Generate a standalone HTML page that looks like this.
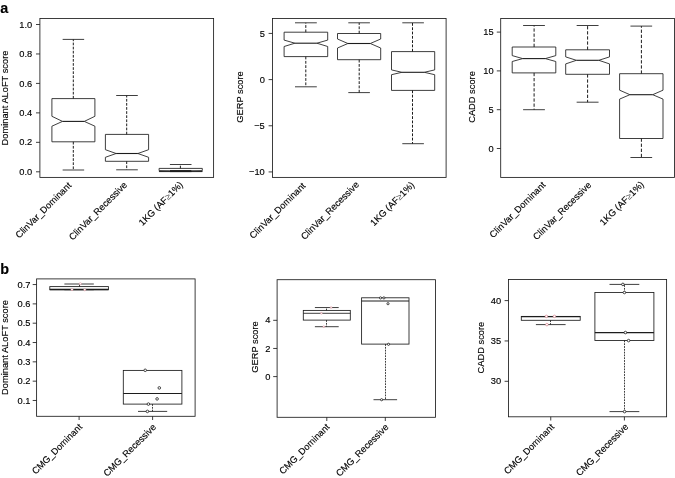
<!DOCTYPE html>
<html><head><meta charset="utf-8"><title>Figure</title>
<style>html,body{margin:0;padding:0;background:#fff}svg{display:block}text{font-family:"Liberation Sans",Arial,sans-serif;fill:#000;stroke:#000;stroke-width:0.14px}</style>
</head><body>
<svg width="675" height="478" viewBox="0 0 675 478">
<rect x="0" y="0" width="675" height="478" fill="#fff"/>
<text x="0.30" y="13.20" font-size="14.4" text-anchor="start" font-weight="bold">a</text>
<text x="0.30" y="274.20" font-size="14.4" text-anchor="start" font-weight="bold">b</text>
<rect x="39.90" y="18.50" width="173.70" height="158.90" fill="none" stroke="#1c1c1c" stroke-width="0.85"/>
<line x1="36.00" y1="171.80" x2="39.90" y2="171.80" stroke="#1c1c1c" stroke-width="0.85"/>
<text x="32.20" y="174.90" font-size="9.3" text-anchor="end">0.0</text>
<line x1="36.00" y1="142.34" x2="39.90" y2="142.34" stroke="#1c1c1c" stroke-width="0.85"/>
<text x="32.20" y="145.44" font-size="9.3" text-anchor="end">0.2</text>
<line x1="36.00" y1="112.88" x2="39.90" y2="112.88" stroke="#1c1c1c" stroke-width="0.85"/>
<text x="32.20" y="115.98" font-size="9.3" text-anchor="end">0.4</text>
<line x1="36.00" y1="83.42" x2="39.90" y2="83.42" stroke="#1c1c1c" stroke-width="0.85"/>
<text x="32.20" y="86.52" font-size="9.3" text-anchor="end">0.6</text>
<line x1="36.00" y1="53.96" x2="39.90" y2="53.96" stroke="#1c1c1c" stroke-width="0.85"/>
<text x="32.20" y="57.06" font-size="9.3" text-anchor="end">0.8</text>
<line x1="36.00" y1="24.50" x2="39.90" y2="24.50" stroke="#1c1c1c" stroke-width="0.85"/>
<text x="32.20" y="27.60" font-size="9.3" text-anchor="end">1.0</text>
<text x="7.60" y="98.00" font-size="9.3" text-anchor="middle" transform="rotate(-90 7.60 98.00)">Dominant ALoFT score</text>
<polygon points="51.90,98.60 94.90,98.60 94.90,116.30 84.30,121.40 94.90,126.20 94.90,141.80 51.90,141.80 51.90,126.20 62.50,121.40 51.90,116.30" fill="#fff" stroke="#1c1c1c" stroke-width="0.85" stroke-linejoin="miter"/>
<line x1="62.50" y1="121.40" x2="84.30" y2="121.40" stroke="#1c1c1c" stroke-width="1.1"/>
<line x1="73.30" y1="98.60" x2="73.30" y2="39.40" stroke="#1c1c1c" stroke-width="1.0" stroke-dasharray="2.7 1.4"/>
<line x1="73.30" y1="141.80" x2="73.30" y2="170.00" stroke="#1c1c1c" stroke-width="1.0" stroke-dasharray="2.7 1.4"/>
<line x1="62.65" y1="39.40" x2="84.15" y2="39.40" stroke="#1c1c1c" stroke-width="0.85"/>
<line x1="62.65" y1="170.00" x2="84.15" y2="170.00" stroke="#1c1c1c" stroke-width="0.85"/>
<polygon points="105.40,134.40 148.60,134.40 148.60,149.70 137.90,153.50 148.60,157.30 148.60,161.30 105.40,161.30 105.40,157.30 116.10,153.50 105.40,149.70" fill="#fff" stroke="#1c1c1c" stroke-width="0.85" stroke-linejoin="miter"/>
<line x1="116.10" y1="153.50" x2="137.90" y2="153.50" stroke="#1c1c1c" stroke-width="1.1"/>
<line x1="126.70" y1="134.40" x2="126.70" y2="95.50" stroke="#1c1c1c" stroke-width="1.0" stroke-dasharray="2.7 1.4"/>
<line x1="126.70" y1="161.30" x2="126.70" y2="169.80" stroke="#1c1c1c" stroke-width="1.0" stroke-dasharray="2.7 1.4"/>
<line x1="116.20" y1="95.50" x2="137.80" y2="95.50" stroke="#1c1c1c" stroke-width="0.85"/>
<line x1="116.20" y1="169.80" x2="137.80" y2="169.80" stroke="#1c1c1c" stroke-width="0.85"/>
<polygon points="159.10,168.40 202.30,168.40 202.30,170.60 191.70,171.00 202.30,171.40 202.30,171.60 159.10,171.60 159.10,171.40 169.70,171.00 159.10,170.60" fill="#fff" stroke="#1c1c1c" stroke-width="0.85" stroke-linejoin="miter"/>
<line x1="169.70" y1="171.00" x2="191.70" y2="171.00" stroke="#1c1c1c" stroke-width="1.9"/>
<line x1="180.40" y1="168.40" x2="180.40" y2="164.50" stroke="#1c1c1c" stroke-width="1.0" stroke-dasharray="2.7 1.4"/>
<line x1="180.40" y1="171.60" x2="180.40" y2="171.60" stroke="#1c1c1c" stroke-width="1.0" stroke-dasharray="2.7 1.4"/>
<line x1="169.90" y1="164.50" x2="191.50" y2="164.50" stroke="#1c1c1c" stroke-width="0.85"/>
<line x1="169.90" y1="171.60" x2="191.50" y2="171.60" stroke="#1c1c1c" stroke-width="0.85"/>
<text x="72.00" y="186.00" font-size="9.3" text-anchor="end" transform="rotate(-45 72.00 186.00)">ClinVar_Dominant</text>
<text x="127.70" y="185.60" font-size="9.3" text-anchor="end" transform="rotate(-45 127.70 185.60)">ClinVar_Recessive</text>
<text x="183.50" y="185.30" font-size="9.3" text-anchor="end" transform="rotate(-45 183.50 185.30)">1KG (AF<tspan fill="#555" stroke="none">≥</tspan>1%)</text>
<rect x="272.50" y="18.50" width="173.60" height="158.90" fill="none" stroke="#1c1c1c" stroke-width="0.85"/>
<line x1="268.60" y1="33.43" x2="272.50" y2="33.43" stroke="#1c1c1c" stroke-width="0.85"/>
<text x="264.80" y="36.53" font-size="9.3" text-anchor="end">5</text>
<line x1="268.60" y1="79.60" x2="272.50" y2="79.60" stroke="#1c1c1c" stroke-width="0.85"/>
<text x="264.80" y="82.70" font-size="9.3" text-anchor="end">0</text>
<line x1="268.60" y1="125.77" x2="272.50" y2="125.77" stroke="#1c1c1c" stroke-width="0.85"/>
<text x="264.80" y="128.87" font-size="9.3" text-anchor="end">−5</text>
<line x1="268.60" y1="171.93" x2="272.50" y2="171.93" stroke="#1c1c1c" stroke-width="0.85"/>
<text x="264.80" y="175.03" font-size="9.3" text-anchor="end">−10</text>
<text x="243.30" y="97.00" font-size="9.3" text-anchor="middle" transform="rotate(-90 243.30 97.00)">GERP score</text>
<polygon points="284.10,32.20 327.70,32.20 327.70,40.10 316.90,43.20 327.70,46.50 327.70,56.60 284.10,56.60 284.10,46.50 294.90,43.20 284.10,40.10" fill="#fff" stroke="#1c1c1c" stroke-width="0.85" stroke-linejoin="miter"/>
<line x1="294.90" y1="43.20" x2="316.90" y2="43.20" stroke="#1c1c1c" stroke-width="1.1"/>
<line x1="305.80" y1="32.20" x2="305.80" y2="22.80" stroke="#1c1c1c" stroke-width="1.0" stroke-dasharray="2.8 1.5"/>
<line x1="305.80" y1="56.60" x2="305.80" y2="86.80" stroke="#1c1c1c" stroke-width="1.0" stroke-dasharray="2.8 1.5"/>
<line x1="295.00" y1="22.80" x2="316.80" y2="22.80" stroke="#1c1c1c" stroke-width="0.85"/>
<line x1="295.00" y1="86.80" x2="316.80" y2="86.80" stroke="#1c1c1c" stroke-width="0.85"/>
<polygon points="337.50,33.50 380.70,33.50 380.70,39.00 370.30,43.50 380.70,48.00 380.70,59.70 337.50,59.70 337.50,48.00 347.90,43.50 337.50,39.00" fill="#fff" stroke="#1c1c1c" stroke-width="0.85" stroke-linejoin="miter"/>
<line x1="347.90" y1="43.50" x2="370.30" y2="43.50" stroke="#1c1c1c" stroke-width="1.1"/>
<line x1="359.20" y1="33.50" x2="359.20" y2="22.80" stroke="#1c1c1c" stroke-width="1.0" stroke-dasharray="2.8 1.5"/>
<line x1="359.20" y1="59.70" x2="359.20" y2="92.60" stroke="#1c1c1c" stroke-width="1.0" stroke-dasharray="2.8 1.5"/>
<line x1="348.30" y1="22.80" x2="369.90" y2="22.80" stroke="#1c1c1c" stroke-width="0.85"/>
<line x1="348.30" y1="92.60" x2="369.90" y2="92.60" stroke="#1c1c1c" stroke-width="0.85"/>
<polygon points="391.50,51.60 434.70,51.60 434.70,69.90 424.30,72.30 434.70,74.70 434.70,90.40 391.50,90.40 391.50,74.70 401.90,72.30 391.50,69.90" fill="#fff" stroke="#1c1c1c" stroke-width="0.85" stroke-linejoin="miter"/>
<line x1="401.90" y1="72.30" x2="424.30" y2="72.30" stroke="#1c1c1c" stroke-width="1.1"/>
<line x1="412.50" y1="51.60" x2="412.50" y2="22.80" stroke="#1c1c1c" stroke-width="1.0" stroke-dasharray="2.8 1.5"/>
<line x1="412.50" y1="90.40" x2="412.50" y2="143.70" stroke="#1c1c1c" stroke-width="1.0" stroke-dasharray="2.8 1.5"/>
<line x1="402.30" y1="22.80" x2="423.90" y2="22.80" stroke="#1c1c1c" stroke-width="0.85"/>
<line x1="402.30" y1="143.70" x2="423.90" y2="143.70" stroke="#1c1c1c" stroke-width="0.85"/>
<text x="306.20" y="186.30" font-size="9.3" text-anchor="end" transform="rotate(-45 306.20 186.30)">ClinVar_Dominant</text>
<text x="359.70" y="185.20" font-size="9.3" text-anchor="end" transform="rotate(-45 359.70 185.20)">ClinVar_Recessive</text>
<text x="415.00" y="185.50" font-size="9.3" text-anchor="end" transform="rotate(-45 415.00 185.50)">1KG (AF<tspan fill="#555" stroke="none">≥</tspan>1%)</text>
<rect x="500.70" y="18.50" width="173.80" height="158.90" fill="none" stroke="#1c1c1c" stroke-width="0.85"/>
<line x1="496.80" y1="32.10" x2="500.70" y2="32.10" stroke="#1c1c1c" stroke-width="0.85"/>
<text x="493.70" y="35.20" font-size="9.3" text-anchor="end">15</text>
<line x1="496.80" y1="70.90" x2="500.70" y2="70.90" stroke="#1c1c1c" stroke-width="0.85"/>
<text x="493.70" y="74.00" font-size="9.3" text-anchor="end">10</text>
<line x1="496.80" y1="109.70" x2="500.70" y2="109.70" stroke="#1c1c1c" stroke-width="0.85"/>
<text x="493.70" y="112.80" font-size="9.3" text-anchor="end">5</text>
<line x1="496.80" y1="148.50" x2="500.70" y2="148.50" stroke="#1c1c1c" stroke-width="0.85"/>
<text x="493.70" y="151.60" font-size="9.3" text-anchor="end">0</text>
<text x="474.90" y="97.00" font-size="9.3" text-anchor="middle" transform="rotate(-90 474.90 97.00)">CADD score</text>
<polygon points="512.20,47.00 555.80,47.00 555.80,55.60 545.30,58.60 555.80,61.50 555.80,72.90 512.20,72.90 512.20,61.50 522.70,58.60 512.20,55.60" fill="#fff" stroke="#1c1c1c" stroke-width="0.85" stroke-linejoin="miter"/>
<line x1="522.70" y1="58.60" x2="545.30" y2="58.60" stroke="#1c1c1c" stroke-width="1.1"/>
<line x1="534.10" y1="47.00" x2="534.10" y2="25.50" stroke="#1c1c1c" stroke-width="1.0" stroke-dasharray="3.3 1.8"/>
<line x1="534.10" y1="72.90" x2="534.10" y2="109.70" stroke="#1c1c1c" stroke-width="1.0" stroke-dasharray="3.3 1.8"/>
<line x1="523.10" y1="25.50" x2="544.90" y2="25.50" stroke="#1c1c1c" stroke-width="0.85"/>
<line x1="523.10" y1="109.70" x2="544.90" y2="109.70" stroke="#1c1c1c" stroke-width="0.85"/>
<polygon points="565.70,49.80 609.50,49.80 609.50,56.90 598.80,60.30 609.50,63.90 609.50,74.30 565.70,74.30 565.70,63.90 576.40,60.30 565.70,56.90" fill="#fff" stroke="#1c1c1c" stroke-width="0.85" stroke-linejoin="miter"/>
<line x1="576.40" y1="60.30" x2="598.80" y2="60.30" stroke="#1c1c1c" stroke-width="1.1"/>
<line x1="587.60" y1="49.80" x2="587.60" y2="25.50" stroke="#1c1c1c" stroke-width="1.0" stroke-dasharray="3.3 1.8"/>
<line x1="587.60" y1="74.30" x2="587.60" y2="102.20" stroke="#1c1c1c" stroke-width="1.0" stroke-dasharray="3.3 1.8"/>
<line x1="576.65" y1="25.50" x2="598.55" y2="25.50" stroke="#1c1c1c" stroke-width="0.85"/>
<line x1="576.65" y1="102.20" x2="598.55" y2="102.20" stroke="#1c1c1c" stroke-width="0.85"/>
<polygon points="619.60,73.70 663.00,73.70 663.00,90.20 652.70,94.70 663.00,99.10 663.00,138.50 619.60,138.50 619.60,99.10 629.90,94.70 619.60,90.20" fill="#fff" stroke="#1c1c1c" stroke-width="0.85" stroke-linejoin="miter"/>
<line x1="629.90" y1="94.70" x2="652.70" y2="94.70" stroke="#1c1c1c" stroke-width="1.1"/>
<line x1="641.40" y1="73.70" x2="641.40" y2="26.10" stroke="#1c1c1c" stroke-width="1.0" stroke-dasharray="3.3 1.8"/>
<line x1="641.40" y1="138.50" x2="641.40" y2="157.50" stroke="#1c1c1c" stroke-width="1.0" stroke-dasharray="3.3 1.8"/>
<line x1="630.45" y1="26.10" x2="652.15" y2="26.10" stroke="#1c1c1c" stroke-width="0.85"/>
<line x1="630.45" y1="157.50" x2="652.15" y2="157.50" stroke="#1c1c1c" stroke-width="0.85"/>
<text x="546.20" y="185.50" font-size="9.3" text-anchor="end" transform="rotate(-45 546.20 185.50)">ClinVar_Dominant</text>
<text x="591.90" y="185.50" font-size="9.3" text-anchor="end" transform="rotate(-45 591.90 185.50)">ClinVar_Recessive</text>
<text x="644.50" y="185.00" font-size="9.3" text-anchor="end" transform="rotate(-45 644.50 185.00)">1KG (AF<tspan fill="#555" stroke="none">≥</tspan>1%)</text>
<rect x="36.60" y="278.90" width="158.50" height="137.40" fill="none" stroke="#1c1c1c" stroke-width="0.85"/>
<line x1="32.70" y1="400.48" x2="36.60" y2="400.48" stroke="#1c1c1c" stroke-width="0.85"/>
<text x="30.50" y="403.58" font-size="9.3" text-anchor="end">0.1</text>
<line x1="32.70" y1="381.16" x2="36.60" y2="381.16" stroke="#1c1c1c" stroke-width="0.85"/>
<text x="30.50" y="384.26" font-size="9.3" text-anchor="end">0.2</text>
<line x1="32.70" y1="361.84" x2="36.60" y2="361.84" stroke="#1c1c1c" stroke-width="0.85"/>
<text x="30.50" y="364.94" font-size="9.3" text-anchor="end">0.3</text>
<line x1="32.70" y1="342.52" x2="36.60" y2="342.52" stroke="#1c1c1c" stroke-width="0.85"/>
<text x="30.50" y="345.62" font-size="9.3" text-anchor="end">0.4</text>
<line x1="32.70" y1="323.20" x2="36.60" y2="323.20" stroke="#1c1c1c" stroke-width="0.85"/>
<text x="30.50" y="326.30" font-size="9.3" text-anchor="end">0.5</text>
<line x1="32.70" y1="303.88" x2="36.60" y2="303.88" stroke="#1c1c1c" stroke-width="0.85"/>
<text x="30.50" y="306.98" font-size="9.3" text-anchor="end">0.6</text>
<line x1="32.70" y1="284.56" x2="36.60" y2="284.56" stroke="#1c1c1c" stroke-width="0.85"/>
<text x="30.50" y="287.66" font-size="9.3" text-anchor="end">0.7</text>
<text x="7.50" y="347.50" font-size="9.3" text-anchor="middle" transform="rotate(-90 7.50 347.50)">Dominant ALoFT score</text>
<line x1="79.10" y1="416.30" x2="79.10" y2="420.00" stroke="#1c1c1c" stroke-width="0.85"/>
<line x1="152.60" y1="416.30" x2="152.60" y2="420.00" stroke="#1c1c1c" stroke-width="0.85"/>
<rect x="49.80" y="286.60" width="58.60" height="3.10" fill="#fafafa" stroke="#1c1c1c" stroke-width="0.85"/>
<line x1="49.80" y1="289.50" x2="108.40" y2="289.50" stroke="#1c1c1c" stroke-width="1.4"/>
<line x1="79.50" y1="286.60" x2="79.50" y2="284.00" stroke="#1c1c1c" stroke-width="0.85" stroke-dasharray="1.8 1.0"/>
<line x1="64.40" y1="284.00" x2="93.80" y2="284.00" stroke="#1c1c1c" stroke-width="0.85"/>
<line x1="64.40" y1="289.70" x2="93.80" y2="289.70" stroke="#1c1c1c" stroke-width="0.85"/>
<circle cx="80.30" cy="283.70" r="1.1" fill="#fff" stroke="#d98590" stroke-width="0.5"/>
<circle cx="72.00" cy="289.60" r="1.1" fill="#fff" stroke="#d98590" stroke-width="0.5"/>
<circle cx="84.80" cy="289.80" r="1.1" fill="#fff" stroke="#d98590" stroke-width="0.5"/>
<rect x="123.30" y="370.40" width="58.60" height="33.70" fill="#fff" stroke="#1c1c1c" stroke-width="0.85"/>
<line x1="123.30" y1="393.50" x2="181.90" y2="393.50" stroke="#1c1c1c" stroke-width="1.2"/>
<line x1="152.50" y1="404.10" x2="152.50" y2="411.40" stroke="#1c1c1c" stroke-width="0.85" stroke-dasharray="1.8 1.0"/>
<line x1="138.00" y1="411.40" x2="167.20" y2="411.40" stroke="#1c1c1c" stroke-width="0.85"/>
<circle cx="145.20" cy="370.30" r="1.3" fill="#fff" stroke="#1c1c1c" stroke-width="0.8"/>
<circle cx="159.30" cy="387.90" r="1.3" fill="#fff" stroke="#1c1c1c" stroke-width="0.8"/>
<circle cx="157.10" cy="398.90" r="1.3" fill="#fff" stroke="#1c1c1c" stroke-width="0.8"/>
<circle cx="148.40" cy="404.10" r="1.3" fill="#fff" stroke="#1c1c1c" stroke-width="0.8"/>
<circle cx="147.40" cy="411.40" r="1.3" fill="#fff" stroke="#1c1c1c" stroke-width="0.8"/>
<text x="82.80" y="427.50" font-size="9.3" text-anchor="end" transform="rotate(-45 82.80 427.50)">CMG_Dominant</text>
<text x="156.70" y="427.70" font-size="9.3" text-anchor="end" transform="rotate(-45 156.70 427.70)">CMG_Recessive</text>
<rect x="277.10" y="279.70" width="158.40" height="137.60" fill="none" stroke="#1c1c1c" stroke-width="0.85"/>
<line x1="273.20" y1="320.32" x2="277.10" y2="320.32" stroke="#1c1c1c" stroke-width="0.85"/>
<text x="270.40" y="323.42" font-size="9.3" text-anchor="end">4</text>
<line x1="273.20" y1="348.46" x2="277.10" y2="348.46" stroke="#1c1c1c" stroke-width="0.85"/>
<text x="270.40" y="351.56" font-size="9.3" text-anchor="end">2</text>
<line x1="273.20" y1="376.60" x2="277.10" y2="376.60" stroke="#1c1c1c" stroke-width="0.85"/>
<text x="270.40" y="379.70" font-size="9.3" text-anchor="end">0</text>
<text x="257.90" y="347.00" font-size="9.3" text-anchor="middle" transform="rotate(-90 257.90 347.00)">GERP score</text>
<line x1="326.80" y1="417.30" x2="326.80" y2="421.00" stroke="#1c1c1c" stroke-width="0.85"/>
<line x1="385.30" y1="417.30" x2="385.30" y2="421.00" stroke="#1c1c1c" stroke-width="0.85"/>
<rect x="303.30" y="310.40" width="47.00" height="9.70" fill="#fff" stroke="#1c1c1c" stroke-width="0.85"/>
<line x1="303.30" y1="313.30" x2="350.30" y2="313.30" stroke="#1c1c1c" stroke-width="0.85"/>
<line x1="326.50" y1="310.40" x2="326.50" y2="307.55" stroke="#1c1c1c" stroke-width="0.85" stroke-dasharray="1.8 1.0"/>
<line x1="314.90" y1="307.55" x2="338.70" y2="307.55" stroke="#1c1c1c" stroke-width="0.85"/>
<line x1="326.50" y1="320.10" x2="326.50" y2="326.70" stroke="#1c1c1c" stroke-width="0.85" stroke-dasharray="1.8 1.0"/>
<line x1="314.90" y1="326.70" x2="338.70" y2="326.70" stroke="#1c1c1c" stroke-width="0.85"/>
<circle cx="331.10" cy="307.55" r="0.9" fill="#fff" stroke="#d98590" stroke-width="0.5"/>
<circle cx="321.40" cy="313.30" r="0.9" fill="#fff" stroke="#d98590" stroke-width="0.5"/>
<circle cx="323.80" cy="326.70" r="0.9" fill="#fff" stroke="#d98590" stroke-width="0.5"/>
<rect x="361.60" y="297.80" width="47.40" height="46.30" fill="#fff" stroke="#1c1c1c" stroke-width="0.85"/>
<line x1="361.60" y1="301.00" x2="409.00" y2="301.00" stroke="#1c1c1c" stroke-width="1.0"/>
<line x1="385.50" y1="344.10" x2="385.50" y2="399.70" stroke="#1c1c1c" stroke-width="0.85" stroke-dasharray="1.8 1.0"/>
<line x1="373.50" y1="399.70" x2="397.10" y2="399.70" stroke="#1c1c1c" stroke-width="0.85"/>
<circle cx="380.50" cy="297.90" r="1.1" fill="#fff" stroke="#1c1c1c" stroke-width="0.8"/>
<circle cx="383.90" cy="297.90" r="1.1" fill="#fff" stroke="#1c1c1c" stroke-width="0.8"/>
<circle cx="388.00" cy="303.70" r="1.1" fill="#fff" stroke="#1c1c1c" stroke-width="0.8"/>
<circle cx="388.50" cy="344.30" r="1.1" fill="#fff" stroke="#1c1c1c" stroke-width="0.8"/>
<circle cx="381.60" cy="399.70" r="1.1" fill="#fff" stroke="#1c1c1c" stroke-width="0.8"/>
<text x="330.20" y="427.50" font-size="9.3" text-anchor="end" transform="rotate(-45 330.20 427.50)">CMG_Dominant</text>
<text x="389.20" y="427.70" font-size="9.3" text-anchor="end" transform="rotate(-45 389.20 427.70)">CMG_Recessive</text>
<rect x="508.50" y="279.50" width="158.10" height="137.30" fill="none" stroke="#1c1c1c" stroke-width="0.85"/>
<line x1="504.60" y1="300.60" x2="508.50" y2="300.60" stroke="#1c1c1c" stroke-width="0.85"/>
<text x="501.20" y="303.70" font-size="9.3" text-anchor="end">40</text>
<line x1="504.60" y1="340.95" x2="508.50" y2="340.95" stroke="#1c1c1c" stroke-width="0.85"/>
<text x="501.20" y="344.05" font-size="9.3" text-anchor="end">35</text>
<line x1="504.60" y1="381.30" x2="508.50" y2="381.30" stroke="#1c1c1c" stroke-width="0.85"/>
<text x="501.20" y="384.40" font-size="9.3" text-anchor="end">30</text>
<text x="483.90" y="347.60" font-size="9.3" text-anchor="middle" transform="rotate(-90 483.90 347.60)">CADD score</text>
<line x1="550.75" y1="416.80" x2="550.75" y2="420.50" stroke="#1c1c1c" stroke-width="0.85"/>
<line x1="624.40" y1="416.80" x2="624.40" y2="420.50" stroke="#1c1c1c" stroke-width="0.85"/>
<rect x="521.30" y="316.40" width="58.90" height="3.90" fill="#fff" stroke="#1c1c1c" stroke-width="0.85"/>
<line x1="521.30" y1="316.60" x2="580.20" y2="316.60" stroke="#1c1c1c" stroke-width="1.2"/>
<line x1="550.50" y1="320.30" x2="550.50" y2="324.60" stroke="#1c1c1c" stroke-width="0.85" stroke-dasharray="1.8 1.0"/>
<line x1="535.90" y1="324.60" x2="565.60" y2="324.60" stroke="#1c1c1c" stroke-width="0.85"/>
<circle cx="546.40" cy="316.40" r="1.3" fill="#fff" stroke="#cc5a68" stroke-width="0.5"/>
<circle cx="554.40" cy="316.40" r="1.3" fill="#fff" stroke="#cc5a68" stroke-width="0.5"/>
<circle cx="546.90" cy="324.60" r="1.3" fill="#fff" stroke="#cc5a68" stroke-width="0.5"/>
<rect x="594.90" y="292.50" width="59.00" height="48.00" fill="#fff" stroke="#1c1c1c" stroke-width="0.85"/>
<line x1="594.90" y1="332.55" x2="653.90" y2="332.55" stroke="#1c1c1c" stroke-width="1.3"/>
<line x1="624.50" y1="292.50" x2="624.50" y2="284.40" stroke="#1c1c1c" stroke-width="0.85" stroke-dasharray="1.8 1.0"/>
<line x1="609.50" y1="284.40" x2="639.30" y2="284.40" stroke="#1c1c1c" stroke-width="0.85"/>
<line x1="624.50" y1="340.50" x2="624.50" y2="411.60" stroke="#1c1c1c" stroke-width="0.85" stroke-dasharray="1.8 1.0"/>
<line x1="609.50" y1="411.60" x2="639.30" y2="411.60" stroke="#1c1c1c" stroke-width="0.85"/>
<circle cx="622.90" cy="284.40" r="1.3" fill="#fff" stroke="#1c1c1c" stroke-width="0.8"/>
<circle cx="624.40" cy="292.50" r="1.3" fill="#fff" stroke="#1c1c1c" stroke-width="0.8"/>
<circle cx="625.40" cy="332.55" r="1.3" fill="#fff" stroke="#1c1c1c" stroke-width="0.8"/>
<circle cx="628.60" cy="340.60" r="1.3" fill="#fff" stroke="#1c1c1c" stroke-width="0.8"/>
<circle cx="624.60" cy="411.60" r="1.3" fill="#fff" stroke="#1c1c1c" stroke-width="0.8"/>
<text x="554.80" y="427.50" font-size="9.3" text-anchor="end" transform="rotate(-45 554.80 427.50)">CMG_Dominant</text>
<text x="629.00" y="427.30" font-size="9.3" text-anchor="end" transform="rotate(-45 629.00 427.30)">CMG_Recessive</text>
</svg></body></html>
